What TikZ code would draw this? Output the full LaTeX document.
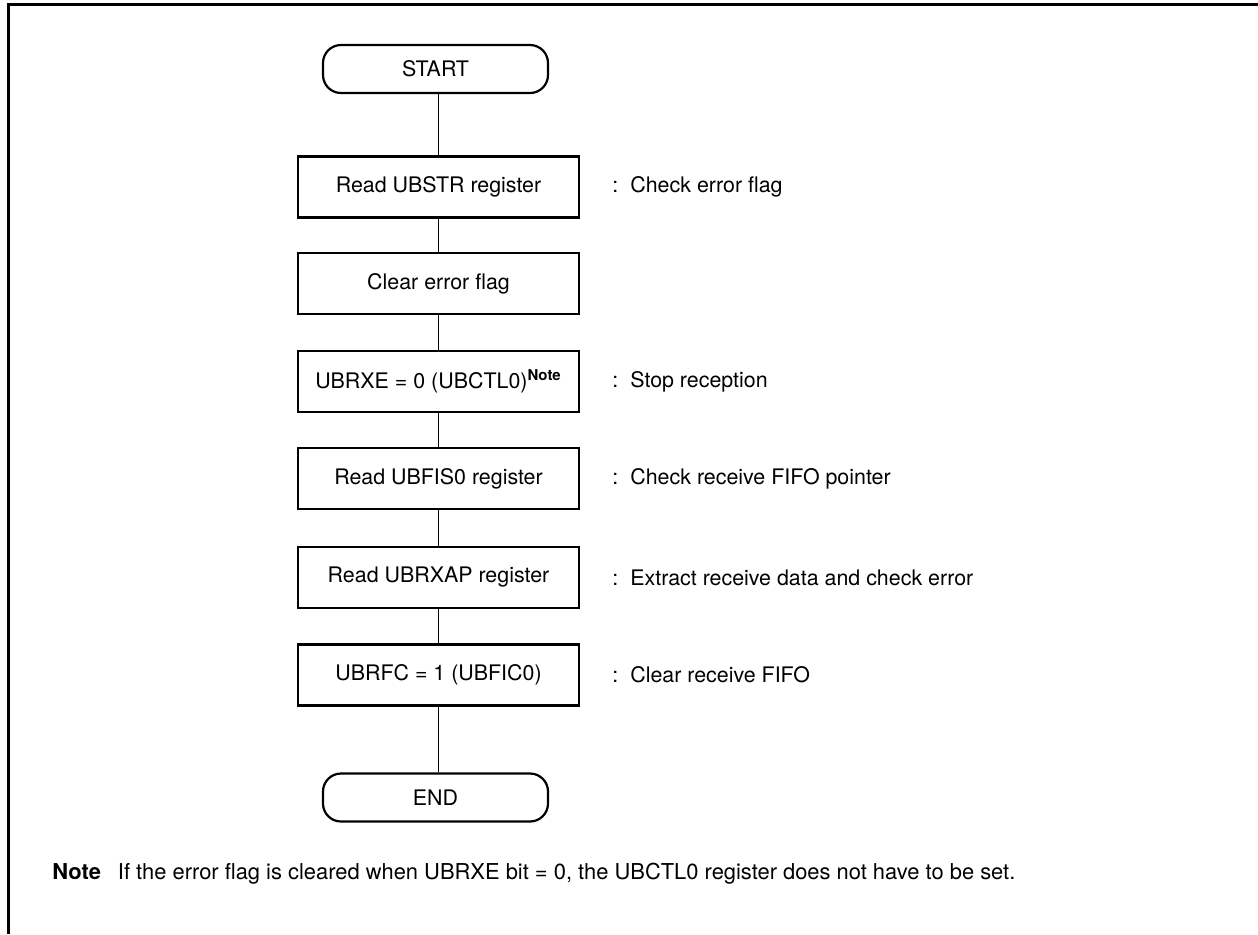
\documentclass[tikz,border=0pt]{standalone}
\usepackage{fontspec}
\setmainfont{TeX Gyre Heros}
\begin{document}
\begin{tikzpicture}[x=0.5pt,y=-0.5pt,
  every node/.style={font=\fontsize{10.7pt}{12pt}\selectfont},
  procbox/.style={draw,line width=1.3pt,minimum width=140.5pt,minimum height=30.5pt,inner sep=0pt},
  termbox/.style={draw,line width=1.1pt,rounded corners=9pt,minimum width=112.5pt,minimum height=24pt,inner sep=0pt},
  flow/.style={draw,line width=0.5pt},
  comment/.style={anchor=west,inner sep=0pt},
  frame/.style={line width=1.5pt}]
\useasboundingbox (0,0) rectangle (1258,934);
\draw[frame] (1258,4.5) -- (8.5,4.5) -- (8.5,934);
\node[termbox] (start) at (435.5,69) {START};
\node[procbox] (b1) at (438.5,187) {Read UBSTR register};
\node[procbox] (b2) at (438.5,283.5) {Clear error flag};
\node[procbox] (b3) at (438.5,381.5) {UBRXE = 0 (UBCTL0)\textsuperscript{\bfseries Note}};
\node[procbox] (b4) at (438.5,478.5) {Read UBFIS0 register};
\node[procbox] (b5) at (438.5,577.5) {Read UBRXAP register};
\node[procbox] (b6) at (438.5,675) {UBRFC = 1 (UBFIC0)};
\node[termbox] (end) at (435.5,797.5) {END};
\node[comment] (c1) at (612,187) {:\hspace{6pt}Check error flag};
\node[comment] (c3) at (612,381.5) {:\hspace{6pt}Stop reception};
\node[comment] (c4) at (612,478.5) {:\hspace{6pt}Check receive FIFO pointer};
\node[comment] (c5) at (612,577.5) {:\hspace{6pt}Extract receive data and check error};
\node[comment] (c6) at (612,675) {:\hspace{6pt}Clear receive FIFO};
\node[comment,font=\fontsize{10.95pt}{12pt}\selectfont] (note) at (52,874) {\textbf{Note}\hspace{8.5pt}If the error flag is cleared when UBRXE bit = 0, the UBCTL0 register does not have to be set.};
\draw[flow] (b1.north |- start.south) -- (b1.north);
\draw[flow] (b1) -- (b2);
\draw[flow] (b2) -- (b3);
\draw[flow] (b3) -- (b4);
\draw[flow] (b4) -- (b5);
\draw[flow] (b5) -- (b6);
\draw[flow] (b6.south) -- (b6.south |- end.north);
\end{tikzpicture}
\end{document}
